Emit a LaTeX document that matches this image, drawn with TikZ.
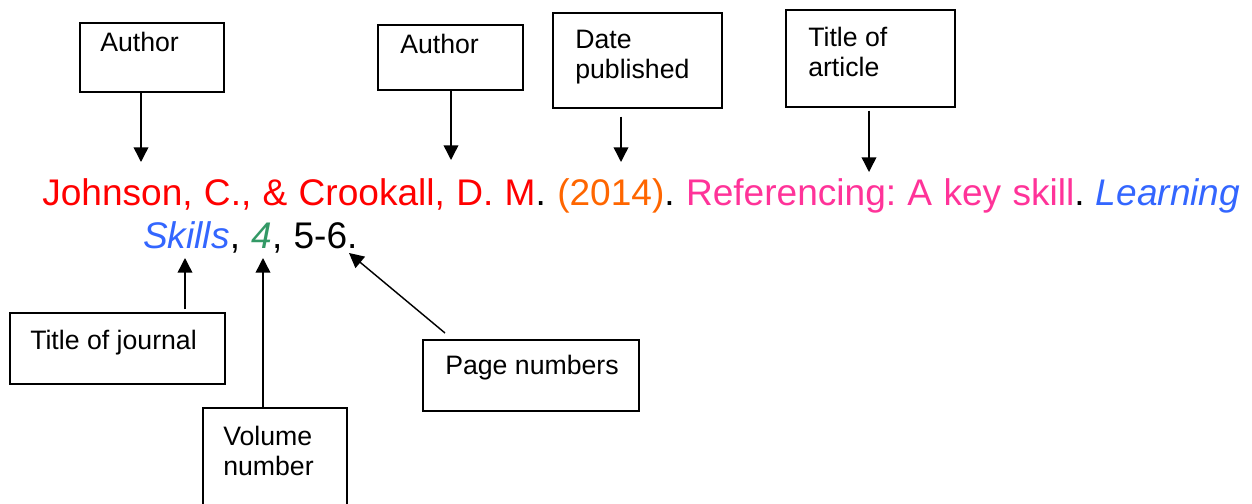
\documentclass[tikz,border=0pt]{standalone}
\usepackage{fontspec}
\setmainfont{Liberation Sans}
\newfontfamily\reffont[WordSpace=1.1]{Liberation Sans}
\usetikzlibrary{arrows.meta}
\definecolor{cred}{RGB}{255,0,0}
\definecolor{corange}{RGB}{255,102,0}
\definecolor{cpink}{RGB}{255,51,153}
\definecolor{cblue}{RGB}{51,102,255}
\definecolor{cgreen}{RGB}{51,153,102}
\frenchspacing
\begin{document}
\begin{tikzpicture}[x=0.75pt,y=-0.75pt,
  box/.style={draw=black,line width=1.1pt,rectangle,inner sep=0pt},
  lbl/.style={anchor=base west,inner sep=0pt,font=\fontsize{20pt}{24pt}\selectfont},
  ref/.style={anchor=base west,inner sep=0pt,font=\reffont\fontsize{27.8pt}{32pt}\selectfont},
  arr/.style={line width=1.1pt,-{Triangle[width=11pt,length=11pt]}}]
\useasboundingbox (0,0) rectangle (1252,503);
% boxes
\node[box,minimum width=144*0.75pt,minimum height=69*0.75pt] (a1) at (152,57.5) {};
\node[box,minimum width=145*0.75pt,minimum height=65*0.75pt] (a2) at (450.5,57.5) {};
\node[box,minimum width=169*0.75pt,minimum height=95*0.75pt] (dp) at (637.5,60.5) {};
\node[box,minimum width=169*0.75pt,minimum height=97*0.75pt] (ta) at (870.5,58.5) {};
\node[box,minimum width=215*0.75pt,minimum height=71*0.75pt] (tj) at (117.5,348.5) {};
\node[box,minimum width=144*0.75pt,minimum height=100*0.75pt] (vn) at (275,458) {};
\node[box,minimum width=216*0.75pt,minimum height=71*0.75pt] (pn) at (531,375.5) {};
% labels
\node[lbl] (a1t) at (100,52) {Author};
\node[lbl] (a2t) at (400,54) {Author};
\node[lbl] (dpt1) at (575,49) {Date};
\node[lbl] (dpt2) at (575,79) {published};
\node[lbl] (tat1) at (808,47) {Title of};
\node[lbl] (tat2) at (808,77) {article};
\node[lbl] (tjt) at (30,349) {Title of journal};
\node[lbl] (pnt) at (445,374) {Page numbers};
\node[lbl] (vnt1) at (223,445) {Volume};
\node[lbl] (vnt2) at (223,475) {number};
% reference text
\node[ref] (l1) at (42,205) {\textcolor{cred}{Johnson, C., \& Crookall, D. M}. \textcolor{corange}{(2014)}. \textcolor{cpink}{Referencing: A key skill}. \textcolor{cblue}{\itshape Learning}};
\node[ref] (l2) at (143,248) {\textcolor{cblue}{\itshape Skills}, \textcolor{cgreen}{\itshape 4}, 5-6.};
% arrow tips
\coordinate (t1) at (141,162);
\coordinate (t2) at (451,160);
\coordinate (t3) at (621,162);
\coordinate (t4) at (869,172);
\coordinate (t5) at (185,258);
\coordinate (t6) at (263,258);
\coordinate (t7) at (349,253);
\coordinate (s7) at (445,333);
\draw[arr] (a1.south -| t1) -- (t1);
\draw[arr] (a2.south -| t2) -- (t2);
\draw[arr,shorten <=8*0.75pt] (dp.south -| t3) -- (t3);
\draw[arr,shorten <=3*0.75pt] (ta.south -| t4) -- (t4);
\draw[arr,shorten <=3*0.75pt] (tj.north -| t5) -- (t5);
\draw[arr] (vn.north -| t6) -- (t6);
\draw[arr] (s7) -- (t7);
\end{tikzpicture}
\end{document}
